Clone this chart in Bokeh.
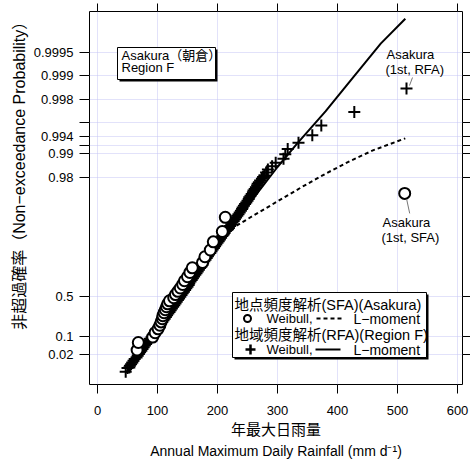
import numpy as np
from bokeh.plotting import figure
from bokeh.models import Range1d, LinearAxis, FixedTicker, Label, Title
from bokeh.embed import file_html
from bokeh.resources import INLINE

# ---------------- data ----------------
x_ticks = [0, 100, 200, 300, 400, 500, 600]
prob_ticks = [0.02, 0.1, 0.5, 0.98, 0.99, 0.994, 0.998, 0.999, 0.9995]
prob_tick_labels = ["0.02", "0.1", "0.5", "0.98", "0.99", "0.994", "0.998", "0.999", "0.9995"]
prob_minor_ticks = [0.992, 0.996]          # unlabelled tick marks

# site frequency analysis (Asakura), Weibull plotting positions
sfa_rain = [66, 68, 92, 96, 101, 104, 106, 108, 109, 111, 113, 115, 117, 120, 127,
            130, 134, 138, 142, 145, 150, 154, 158, 175, 179, 188, 193, 208, 213, 512]
sfa_prob = [0.0323, 0.0645, 0.0968, 0.1290, 0.1613, 0.1935, 0.2258, 0.2581, 0.2903, 0.3226,
            0.3548, 0.3871, 0.4194, 0.4516, 0.4839, 0.5161, 0.5484, 0.5806, 0.6129, 0.6452,
            0.6774, 0.7097, 0.7419, 0.7742, 0.8065, 0.8387, 0.8710, 0.9032, 0.9355, 0.9677]

# regional frequency analysis (Region F), Weibull plotting positions
rfa_rain = [47, 50, 53, 54, 56, 58, 60, 62, 65, 67, 69, 71, 73, 75, 77, 79, 81, 83, 85, 87,
            90, 92, 94, 96, 98, 100, 102, 104, 106, 108, 110, 112, 114, 116, 118, 120, 122,
            124, 126, 128, 130, 132, 134, 136, 138, 140, 142, 144, 146, 148, 150, 152, 153,
            155, 157, 159, 161, 163, 165, 167, 169, 171, 173, 175, 176, 178, 180, 182, 184,
            186, 188, 190, 192, 194, 196, 198, 200, 202, 204, 206, 208, 210, 212, 214, 217,
            219, 221, 223, 225, 227, 229, 231, 233, 235, 237, 239, 241, 242, 244, 246, 248,
            250, 252, 253, 255, 257, 259, 260, 262, 264, 266, 267, 269, 271, 274, 276, 278,
            281, 284, 291, 297, 310, 313, 317, 335, 358, 373, 428, 515]
rfa_prob = [0.00146, 0.00292, 0.003168, 0.004195, 0.005478, 0.007057, 0.008992, 0.011314,
            0.014078, 0.017336, 0.021124, 0.025504, 0.030491, 0.036146, 0.042503, 0.049579,
            0.05740, 0.065988, 0.075344, 0.085483, 0.096366, 0.108011, 0.120392, 0.133468,
            0.147269, 0.161676, 0.176701, 0.192296, 0.208400, 0.224966, 0.241932, 0.259263,
            0.276928, 0.294800, 0.312922, 0.331154, 0.349494, 0.367879, 0.386266, 0.404608,
            0.422864, 0.440991, 0.458958, 0.476720, 0.494261, 0.511544, 0.528544, 0.545239,
            0.561609, 0.577635, 0.593308, 0.608611, 0.62353, 0.638056, 0.652194, 0.665905,
            0.679268, 0.692201, 0.704732, 0.716868, 0.728597, 0.739929, 0.750883, 0.761460,
            0.771636, 0.781485, 0.790911, 0.800036, 0.808767, 0.817195, 0.825265, 0.833031,
            0.840482, 0.847639, 0.854502, 0.861081, 0.867385, 0.873423, 0.879204, 0.884747,
            0.890043, 0.895124, 0.899969, 0.904605, 0.909036, 0.913284, 0.917327, 0.921195,
            0.924888, 0.928417, 0.931786, 0.935003, 0.938073, 0.941002, 0.943800, 0.946463,
            0.949003, 0.951432, 0.953744, 0.955951, 0.958053, 0.960058, 0.961968, 0.963789,
            0.965524, 0.967178, 0.968753, 0.970255, 0.971684, 0.973046, 0.974344, 0.975579,
            0.976757, 0.977877, 0.978944, 0.979961, 0.980929,
            0.98248, 0.98394, 0.98540, 0.98686, 0.98832, 0.98978, 0.99124, 0.99270, 0.99416,
            0.99562, 0.99708, 0.99854]

# L-moment fitted curves
sfa_lmom_rain = [200, 230, 260, 300, 340, 380, 420, 460, 513]
sfa_lmom_prob = [0.8545, 0.91653, 0.93867, 0.95926, 0.97305, 0.98185, 0.98743, 0.99095, 0.99361]
rfa_lmom_rain = [48, 100, 150, 200, 250, 300, 333, 380, 422, 472, 513]
rfa_lmom_prob = [0.001246, 0.1767, 0.5995, 0.8611, 0.9537, 0.98512, 0.99258, 0.99712,
                 0.998853, 0.999614, 0.999816]


def gumbel(p):
    """Gumbel reduced variate: the probability-paper scale of the y axis."""
    p = np.asarray(p, dtype=float)
    return -np.log(-np.log(p))


# ---------------- layout ----------------
X0, X1 = -13.33, 608.33
Y0, Y1 = -2.254, 8.814
FL, FT, FW, FH = 89, 11, 373, 373  # frame position in the figure (px)


def dx(px):
    return X0 + (px - FL) / FW * (X1 - X0)


def dy(py):
    return Y1 - (py - FT) / FH * (Y1 - Y0)


LAT = "Liberation Sans, Noto Sans CJK JP"

p = figure(width=470, height=461, x_range=Range1d(X0, X1), y_range=Range1d(Y0, Y1),
           output_backend="svg", toolbar_location=None,
           min_border_left=89, min_border_right=8, min_border_top=11, min_border_bottom=77)
p.outline_line_color = "black"
p.outline_line_width = 1
p.background_fill_color = "white"

yt = [float(v) for v in gumbel(prob_ticks)]
ym = [float(v) for v in gumbel(prob_minor_ticks)]
overrides = {v: lab for v, lab in zip(yt, prob_tick_labels)}

# grids
p.xgrid.ticker = FixedTicker(ticks=x_ticks)
p.ygrid.ticker = FixedTicker(ticks=yt, minor_ticks=ym)
for g in (p.xgrid, p.ygrid):
    g.grid_line_color = "#c4c4f4"
    g.grid_line_dash = "1 1"
    g.grid_line_width = 1
p.ygrid.minor_grid_line_color = "#c4c4f4"
p.ygrid.minor_grid_line_dash = "1 1"

# bottom axis
xa = p.xaxis[0]
xa.ticker = FixedTicker(ticks=x_ticks)
xa.axis_line_color = None
xa.major_tick_out = 9
xa.major_tick_in = 0
xa.major_tick_line_color = "black"
xa.minor_tick_line_color = None
xa.major_label_text_font = LAT
xa.major_label_text_font_size = "13px"
xa.major_label_text_color = "black"
xa.major_label_standoff = 12
xa.axis_label = "年最大日雨量"
xa.axis_label_text_font = LAT
xa.axis_label_text_font_size = "15px"
xa.axis_label_text_font_style = "normal"
xa.axis_label_text_color = "black"
xa.axis_label_standoff = 3

# left axis
ya = p.yaxis[0]
ya.ticker = FixedTicker(ticks=yt, minor_ticks=ym)
ya.major_label_overrides = overrides
ya.axis_line_color = None
ya.major_tick_out = 10
ya.major_tick_in = 0
ya.major_tick_line_color = "black"
ya.minor_tick_out = 10
ya.minor_tick_in = 0
ya.minor_tick_line_color = "black"
ya.major_label_text_font = LAT
ya.major_label_text_font_size = "13px"
ya.major_label_text_color = "black"
ya.major_label_standoff = 6
# leading ideographic spaces shift the title upward, as it sits in the reference
ya.axis_label = "\u3000\u3000\u3000\u00a0非超過確率（Non−exceedance Probability）"
ya.axis_label_text_font = LAT
ya.axis_label_text_font_size = "16px"
ya.axis_label_text_font_style = "normal"
ya.axis_label_text_color = "black"
ya.axis_label_standoff = 3

# top and right axes: tick marks only, no labels
top = LinearAxis(ticker=FixedTicker(ticks=x_ticks), axis_line_color=None, major_tick_out=8,
                 major_tick_in=0, major_tick_line_color="black", minor_tick_line_color=None,
                 major_label_text_color=None, major_label_text_font_size="0px",
                 major_label_standoff=0, axis_label_standoff=0)
p.add_layout(top, "above")
right = LinearAxis(ticker=FixedTicker(ticks=yt, minor_ticks=ym), axis_line_color=None,
                   major_tick_out=8, major_tick_in=0, minor_tick_out=8, minor_tick_in=0,
                   major_tick_line_color="black", minor_tick_line_color="black",
                   major_label_text_color=None, major_label_text_font_size="0px",
                   major_label_standoff=0, axis_label_standoff=0)
p.add_layout(right, "right")

p.add_layout(Title(text="Annual Maximum Daily Rainfall (mm d⁻¹)", align="center",
                   text_font=LAT, text_font_size="14px", text_font_style="normal",
                   text_color="black", standoff=0), "below")

# ---------------- data marks ----------------
p.line(sfa_lmom_rain, gumbel(sfa_lmom_prob), line_color="black", line_width=2, line_dash="4 3")
p.line(rfa_lmom_rain, gumbel(rfa_lmom_prob), line_color="black", line_width=2)
p.scatter(rfa_rain, gumbel(rfa_prob), marker="cross", size=12, line_width=2, line_color="black")
p.scatter(sfa_rain, gumbel(sfa_prob), marker="circle", size=11, line_width=2,
          line_color="black", fill_color="white")

# leader lines for the Asakura annotations
rx, ry = rfa_rain[-1], gumbel(rfa_prob[-1])
sx, sy = sfa_rain[-1], gumbel(sfa_prob[-1])
ppx = (X1 - X0) / FW
ppy = (Y1 - Y0) / FH
p.segment(x0=[rx + 3 * ppx, sx + 2 * ppx], y0=[ry + 3 * ppy, sy - 6 * ppy],
          x1=[rx + 6 * ppx, sx + 5 * ppx], y1=[ry + 11 * ppy, sy - 20 * ppy],
          line_color="#777777", line_width=1)


# ---------------- boxes ----------------
def box(l, t, r, b):
    p.quad(left=[dx(l + 2)], right=[dx(r + 2)], top=[dy(t + 2)], bottom=[dy(b + 2)],
           fill_color="black", line_color=None)
    p.quad(left=[dx(l)], right=[dx(r)], top=[dy(t)], bottom=[dy(b)],
           fill_color="white", line_color="black", line_width=1)


box(117, 47, 215, 79)
box(232, 292, 426, 357)

# legend samples
p.scatter([dx(247)], [dy(318)], marker="circle", size=7, line_width=2,
          line_color="black", fill_color="white")
p.line([dx(316), dx(341)], [dy(318), dy(318)], line_color="black", line_width=2, line_dash="4 3")
p.scatter([dx(250)], [dy(349)], marker="cross", size=10, line_width=2.5, line_color="black")
p.line([dx(315), dx(340)], [dy(349), dy(349)], line_color="black", line_width=2)


def label(px, py, text, size="13px"):
    p.add_layout(Label(x=dx(px), y=dy(py), text=text, text_font=LAT, text_font_size=size,
                       text_baseline="middle", text_align="left", text_color="black"))


label(121, 55, "Asakura（朝倉）")
label(121, 67, "Region F")
label(386, 54, "Asakura")
label(385, 69, "(1st, RFA)")
label(382, 222, "Asakura")
label(381, 237, "(1st, SFA)")
label(234, 304, "地点頻度解析(SFA)(Asakura)", size="14.5px")
label(266, 318, "Weibull,", size="13px")
label(353, 318, "L−moment", size="14px")
label(234, 334, "地域頻度解析(RFA)(Region F)", size="14.5px")
label(266, 349, "Weibull,", size="13px")
label(353, 349, "L−moment", size="14px")

open("out.html", "w").write(file_html(p, INLINE))
